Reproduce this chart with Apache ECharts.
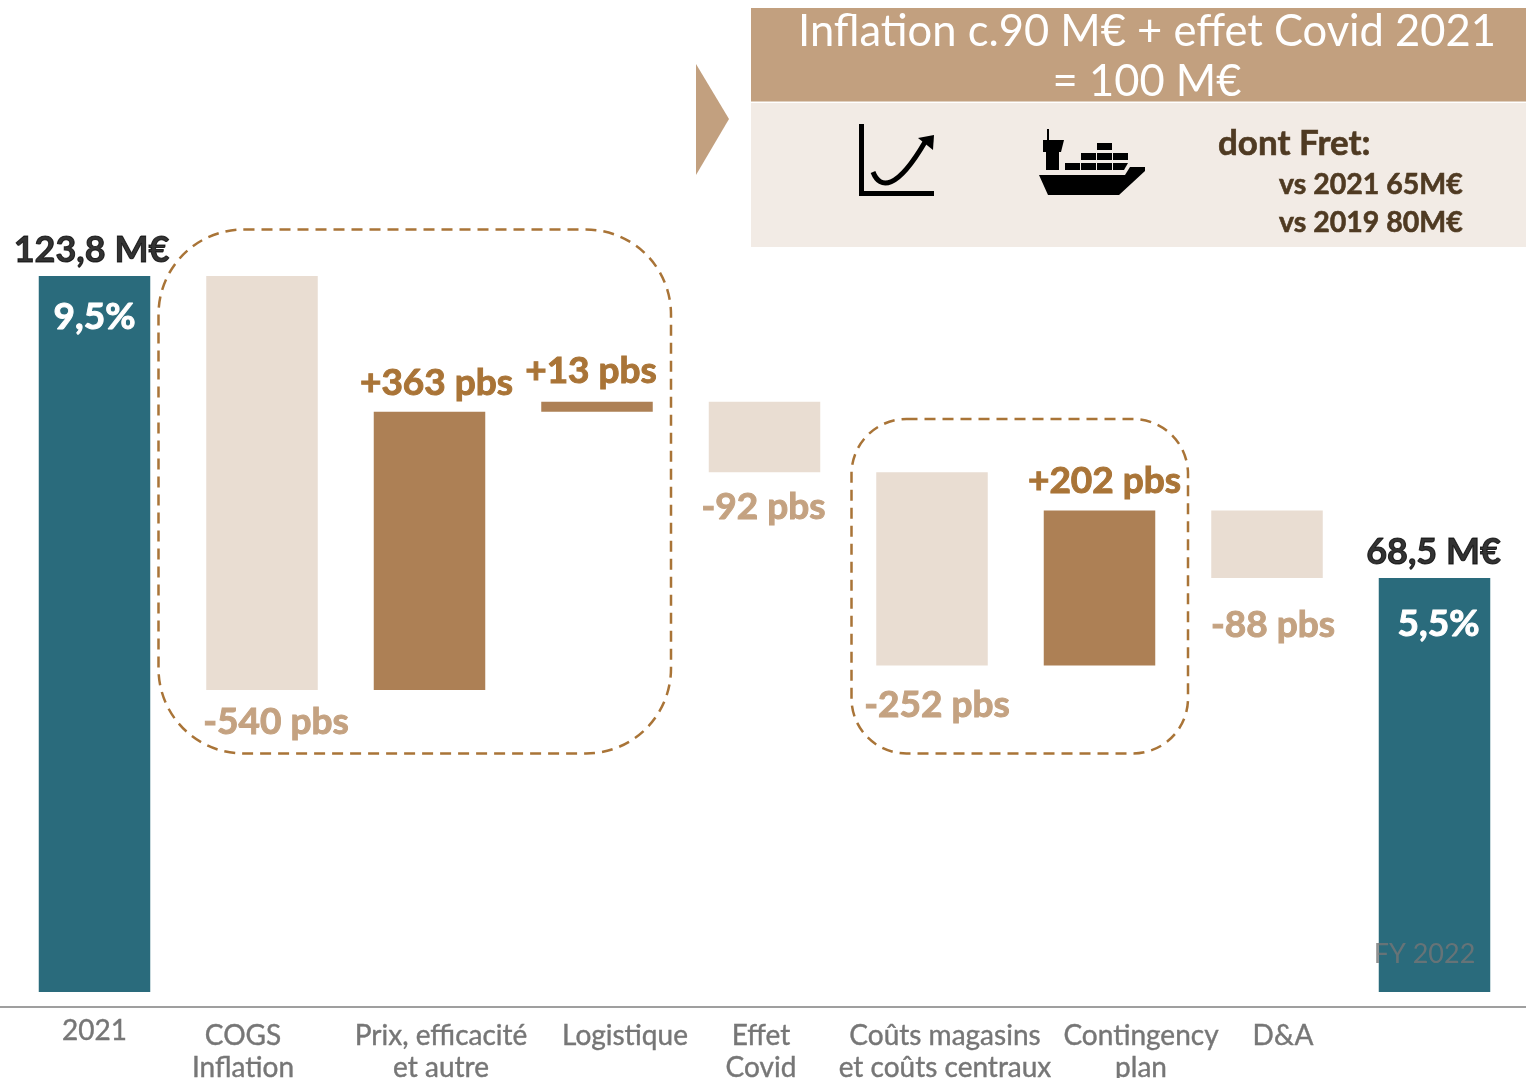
<!DOCTYPE html>
<html>
<head>
<meta charset="utf-8">
<title>Marge FY 2022</title>
<style>
    html, body { margin: 0; padding: 0; background: #fff; }
    #main { width: 1526px; height: 1078px; overflow: hidden; }
</style>
<script src="https://cdn.jsdelivr.net/npm/echarts@6/dist/echarts.min.js"></script>
</head>
<body>
<div id="main"></div>
<script>
// catégories de l'axe
var categories = ['2021', 'COGS\nInflation', 'Prix, efficacité\net autre', 'Logistique', 'Effet\nCovid',
    'Coûts magasins\net coûts centraux', 'Contingency\nplan', 'D&A', 'FY 2022'];
// valeurs en pbs
var baseValues = [0, 410, 410, 773, 694, 442, 442, 556, 0];
var totalValues = [950, null, null, null, null, null, null, null, 556];
var downValues = [null, 540, null, null, 92, 252, null, 88, null];
var upValues = [null, null, 363, 13, null, null, 202, null, null];
// textes
var deltaLabels = [null, '-540 pbs', '+363 pbs', '+13 pbs', '-92 pbs', '-252 pbs', '+202 pbs', '-88 pbs', null];
var marginLabels = ['9,5%', null, null, null, null, null, null, null, '5,5%'];
var amountLabels = ['123,8 M€', null, null, null, null, null, null, null, '68,5 M€'];

var FONT = 'Lato';
var TEAL = '#2A6B7C', LIGHT = '#E9DDD2', BROWN = '#AD8055';
var LIGHT_TEXT = '#C4A281', BROWN_TEXT = '#A97437';

// décalage des libellés d'axe par rapport au centre de la barre
var axisShift = [0, -19, 11.5, 28, -3.5, 13, 41.5, 16, 0];
// décalage des libellés pbs
var deltaOffset = [null, [14, 9], [7, -5], [-6, -7], [-1, 11], [5, 16], [5, -6], [6, 24], null];
var marginOffset = [[0, 2], null, null, null, null, null, null, null, [4, 7]];

function boldLabel(color) {
    return {
        show: true,
        color: color,
        fontFamily: FONT,
        fontWeight: 700,
        fontSize: 37,
        textBorderColor: color,
        textBorderWidth: 1
    };
}

function axisItem(name, i) {
    var s = axisShift[i];
    var item = { value: name };
    if (i === 8) {
        item.textStyle = { color: 'transparent', textBorderWidth: 0 };
        return item;
    }
    item.textStyle = { padding: [i === 0 ? 0 : 5, s < 0 ? -2 * s : 0, 0, s > 0 ? 2 * s : 0] };
    return item;
}

function deltaItems(values, color) {
    return values.map(function (v, i) {
        if (v === null) return null;
        var label = boldLabel(color);
        label.position = values === upValues ? 'top' : 'bottom';
        label.offset = deltaOffset[i];
        label.formatter = deltaLabels[i];
        return { value: v, label: label };
    });
}

var chartDom = document.getElementById('main');
var myChart = echarts.init(chartDom);

var option = {
    animation: false,
    backgroundColor: '#fff',
    grid: { left: 10.75, right: 7.75, top: 276, bottom: 86, outerBoundsMode: 'none' },
    xAxis: {
        type: 'category',
        data: categories.map(axisItem),
        offset: 15,
        axisLine: { show: false },
        axisTick: { show: false },
        axisLabel: {
            interval: 0,
            margin: 8,
            color: '#767676',
            fontFamily: FONT,
            fontSize: 28,
            lineHeight: 32,
            verticalAlign: 'top',
            textBorderColor: '#767676',
            textBorderWidth: 0.4
        }
    },
    yAxis: { type: 'value', min: 16, max: 950, show: false },
    series: [
        {
            name: 'base',
            type: 'bar',
            stack: 'total',
            barWidth: 111.5,
            itemStyle: { color: 'transparent' },
            data: baseValues
        },
        {
            name: 'marge',
            type: 'bar',
            stack: 'total',
            barWidth: 111.5,
            itemStyle: { color: TEAL },
            data: totalValues.map(function (v, i) {
                if (v === null) return null;
                var label = boldLabel('#fff');
                label.position = 'insideTop';
                label.distance = 21;
                label.offset = marginOffset[i];
                label.formatter = marginLabels[i];
                return { value: v, label: label };
            })
        },
        {
            name: 'baisse',
            type: 'bar',
            stack: 'total',
            barWidth: 111.5,
            itemStyle: { color: LIGHT },
            data: deltaItems(downValues, LIGHT_TEXT)
        },
        {
            name: 'hausse',
            type: 'bar',
            stack: 'total',
            barWidth: 111.5,
            itemStyle: { color: BROWN },
            data: deltaItems(upValues, BROWN_TEXT)
        },
        {
            // montants en M€ au-dessus des barres
            name: 'montant',
            type: 'scatter',
            symbolSize: 0,
            data: totalValues.map(function (v, i) {
                if (v === null) return null;
                var label = boldLabel('#000');
                label.position = 'top';
                label.distance = 8;
                label.fontSize = 36;
                label.offset = i === 0 ? [-3, 0] : [-1, 0];
                label.formatter = amountLabels[i];
                return { value: v, label: label };
            })
        },
        {
            // le libellé FY 2022 est posé sur la dernière barre
            name: 'fy',
            type: 'scatter',
            symbolSize: 0,
            label: {
                show: true,
                position: 'top',
                distance: 24,
                offset: [-10, 0],
                formatter: function (p) { return categories[p.dataIndex]; },
                color: '#767676',
                fontFamily: FONT,
                fontSize: 27
            },
            data: [null, null, null, null, null, null, null, null, 16]
        }
    ],
    graphic: [
        // axe
        { type: 'line', shape: { x1: 0, y1: 1007, x2: 1526, y2: 1007 }, style: { stroke: '#7F7F7F', lineWidth: 1.5 } },
        // cadres pointillés
        { type: 'rect', shape: { x: 158.5, y: 229.5, width: 512.5, height: 524, r: 85 }, style: { fill: null, stroke: BROWN_TEXT, lineWidth: 2.5, lineDash: [11, 7] } },
        { type: 'rect', shape: { x: 851.5, y: 419, width: 336.5, height: 334.5, r: 55 }, style: { fill: null, stroke: BROWN_TEXT, lineWidth: 2.5, lineDash: [11, 7] } },
        // encart
        { type: 'polygon', shape: { points: [[696, 64], [729, 119], [696, 175]] }, style: { fill: '#C2A07F' } },
        { type: 'rect', shape: { x: 751, y: 8, width: 775, height: 93.5 }, style: { fill: '#C2A07F' } },
        { type: 'rect', shape: { x: 751, y: 103, width: 775, height: 144 }, style: { fill: '#F2EBE5' } },
        { type: 'text', x: 1147, y: 32, style: { text: 'Inflation c.90 M€ + effet Covid 2021', fill: '#fff', font: '43.5px ' + FONT, textAlign: 'center', textVerticalAlign: 'middle' } },
        { type: 'text', x: 1147, y: 82, style: { text: '= 100 M€', fill: '#fff', font: '43.5px ' + FONT, textAlign: 'center', textVerticalAlign: 'middle' } },
        { type: 'text', x: 1218, y: 144, style: { text: 'dont Fret:', fill: '#4F3A22', font: 'bold 35px ' + FONT, textVerticalAlign: 'middle', stroke: '#4F3A22', lineWidth: 0.6 } },
        { type: 'text', x: 1279, y: 185, style: { text: 'vs 2021 65M€', fill: '#4F3A22', font: 'bold 28.5px ' + FONT, textVerticalAlign: 'middle', stroke: '#4F3A22', lineWidth: 0.6 } },
        { type: 'text', x: 1279, y: 223, style: { text: 'vs 2019 80M€', fill: '#4F3A22', font: 'bold 28.5px ' + FONT, textVerticalAlign: 'middle', stroke: '#4F3A22', lineWidth: 0.6 } },
        // icône courbe
        { type: 'rect', shape: { x: 859, y: 124, width: 5, height: 72 }, style: { fill: '#000' } },
        { type: 'rect', shape: { x: 859, y: 191, width: 75, height: 5 }, style: { fill: '#000' } },
        { type: 'bezierCurve', shape: { x1: 873, y1: 172, cpx1: 880, cpy1: 190, cpx2: 897, cpy2: 190, x2: 925, y2: 142 }, style: { fill: null, stroke: '#000', lineWidth: 5 } },
        { type: 'polygon', shape: { points: [[934, 135], [918, 138], [933, 150]] }, style: { fill: '#000' } },
        // icône bateau
        { type: 'polygon', shape: { points: [[1039, 175], [1125, 175], [1130, 167], [1145, 167], [1145, 171], [1119, 195], [1048, 195]] }, style: { fill: '#000' } },
        { type: 'rect', shape: { x: 1047, y: 129, width: 2, height: 12 }, style: { fill: '#000' } },
        { type: 'polygon', shape: { points: [[1043, 140], [1064, 140], [1061, 152], [1043, 152]] }, style: { fill: '#000' } },
        { type: 'rect', shape: { x: 1046, y: 152, width: 13, height: 18 }, style: { fill: '#000' } },
        { type: 'rect', shape: { x: 1097, y: 143, width: 15, height: 7 }, style: { fill: '#000' } },
        { type: 'rect', shape: { x: 1081, y: 153, width: 15, height: 7 }, style: { fill: '#000' } },
        { type: 'rect', shape: { x: 1097, y: 153, width: 15, height: 7 }, style: { fill: '#000' } },
        { type: 'rect', shape: { x: 1113, y: 153, width: 15, height: 7 }, style: { fill: '#000' } },
        { type: 'rect', shape: { x: 1065, y: 163, width: 15, height: 7 }, style: { fill: '#000' } },
        { type: 'rect', shape: { x: 1081, y: 163, width: 15, height: 7 }, style: { fill: '#000' } },
        { type: 'rect', shape: { x: 1097, y: 163, width: 15, height: 7 }, style: { fill: '#000' } },
        { type: 'polygon', shape: { points: [[1113, 163], [1128, 163], [1124, 170], [1113, 170]] }, style: { fill: '#000' } }
    ]
};
myChart.setOption(option);
</script>
</body>
</html>
